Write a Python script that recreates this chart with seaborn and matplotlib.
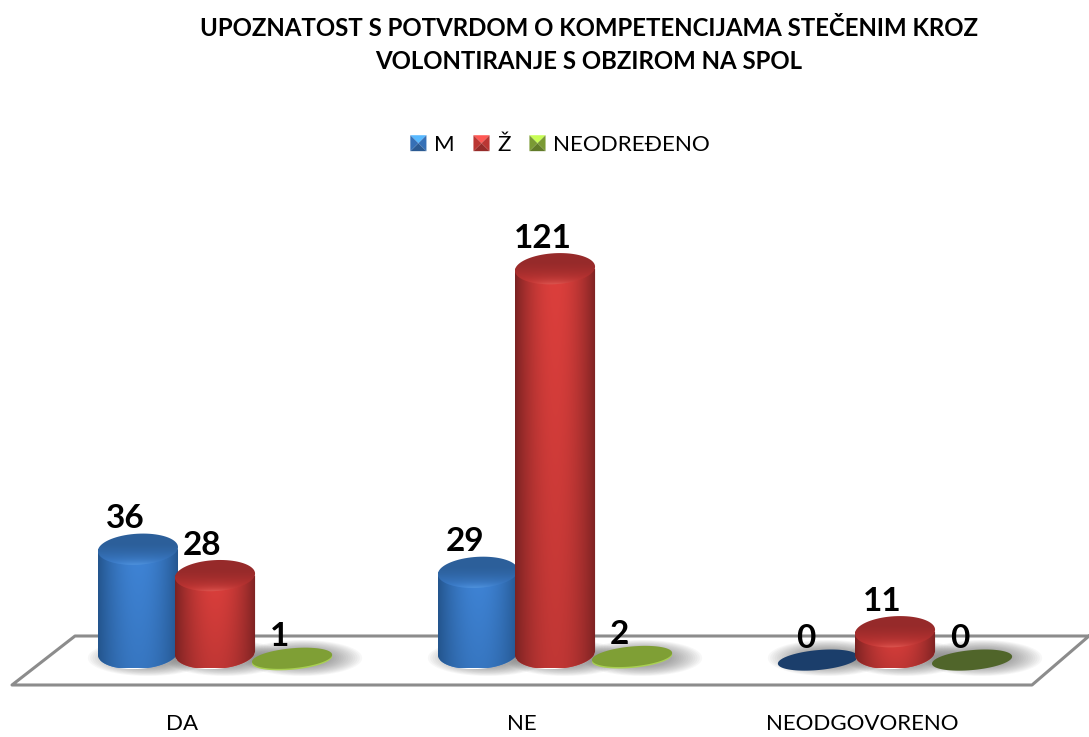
# -*- coding: utf-8 -*-
import numpy as np
import pandas as pd
import seaborn as sns
import matplotlib.pyplot as plt
from matplotlib.colors import to_rgb
from matplotlib.legend_handler import HandlerBase
from matplotlib.lines import Line2D
from matplotlib.patches import Patch, Polygon
from matplotlib.path import Path
from matplotlib.transforms import Affine2D, ScaledTranslation

title_text = 'UPOZNATOST S POTVRDOM O KOMPETENCIJAMA STEČENIM KROZ\nVOLONTIRANJE S OBZIROM NA SPOL'
categories = ['DA', 'NE', 'NEODGOVORENO']
series_names = ['M', 'Ž', 'NEODREĐENO']
m_values = [36, 29, 0]
z_values = [28, 121, 11]
n_values = [1, 2, 0]

# edge, centre, top dark, top light, zero colour
shades = {
    'M': ['#23548c', '#3f84d6', '#2c5f9a', '#3c7fd0', '#1b3e6b'],
    'Ž': ['#7a2222', '#dc3f3c', '#962a2a', '#c93634', '#7a1f1f'],
    'NEODREĐENO': ['#55702a', '#8fb53d', '#7b9c33', '#7f9f35', '#50652a'],
}

W, H = 1089, 737
sns.set_theme(style='white')
plt.rcParams['font.family'] = ['Lato', 'DejaVu Sans']

df = pd.DataFrame({
    'cat': categories * 3,
    'spol': [s for s in series_names for _ in categories],
    'n': m_values + z_values + n_values,
})

fig = plt.figure(figsize=(W / 100, H / 100), dpi=100)
# axes box in pixels: 100 .. 685 from the top
ax = fig.add_axes([0, (H - 685) / H, 1, 585 / H])
fig.patch.set_facecolor('white')

sns.barplot(data=df, x='cat', y='n', hue='spol', hue_order=series_names, order=categories,
            palette=[shades[s][1] for s in series_names], width=0.68, gap=0, legend=False,
            saturation=1, ax=ax)

PX_Y = 3.3          # pixels per unit on the y axis
PX_X = 340.0        # pixels per category
ax.set_xlim(-215 / PX_X, (W - 215) / PX_X)
ax.set_ylim(-17 / PX_Y, 568 / PX_Y)


def ell_pts(cx, cy, a, b, tilt, t0=0, t1=2 * np.pi):
    t = np.linspace(t0, t1, 80)
    return np.c_[cx + a * np.cos(t), cy + b * np.sin(t) + tilt * np.cos(t)]


def mix(c1, c2, f):
    c1, c2 = np.array(to_rgb(c1)), np.array(to_rgb(c2))
    return c1[None, None, :] * (1 - f[..., None]) + c2[None, None, :] * f[..., None]


def painted(img, extent, pts, z):
    im = ax.imshow(img, extent=extent, aspect='auto', origin='lower', zorder=z, interpolation='bilinear')
    im.set_clip_path(Path(np.vstack([pts, pts[:1]])), ax.transData)


def shadow(cx, cy, a, b, z):
    for k in np.linspace(1.0, 0.5, 14):
        ax.fill(*ell_pts(cx, cy, a * k, b * k, 0).T, color='#505050', alpha=0.045, lw=0, zorder=z)


# each bar from seaborn becomes a cylinder
z = 3
for j, name in enumerate(series_names):
    cont = ax.containers[j]
    edge, mid, top_d, top_l, zero = shades[name]
    for p, v in zip(cont.patches, cont.datavalues):
        cx = p.get_x() + p.get_width() / 2
        a = p.get_width() * 0.52
        flat = v < 5
        if flat:
            cy = 2.4 + 0.55 * v
            b, tilt = 10 / PX_Y, 3.5 / PX_Y
        else:
            cy = v
            b, tilt = 15.5 / PX_Y, 2 / PX_Y
        shadow(cx + 10 / PX_X, 10 / PX_Y, a * 1.5, 18 / PX_Y, 2)
        if flat:
            p.set_visible(False)
            if v > 0:
                ax.fill(*ell_pts(cx, cy - 1.5 / PX_Y, a, b, tilt).T, color='#a9d052', lw=0, zorder=z + j)
                ax.fill(*ell_pts(cx, cy, a, b, tilt).T, color=top_l, lw=0, zorder=z + j)
            else:
                ax.fill(*ell_pts(cx, cy, a, b, tilt).T, color=zero, lw=0, zorder=z + j)
        else:
            y0 = 15 / PX_Y
            low = ell_pts(cx, y0, a, 16 / PX_Y, tilt, np.pi, 2 * np.pi)
            body = np.vstack([[[cx - a, cy]], low, [[cx + a, cy]]])
            p.set_clip_path(Path(np.vstack([body, body[:1]])), ax.transData)
            p.set_zorder(z + j)
            tx = np.linspace(0, 1, 90)
            ty = np.linspace(0, 1, 40)
            xx, yy = np.meshgrid(tx, ty)
            glow = np.clip(np.sin(np.pi * xx) ** 0.85, 0, 1) * (0.72 + 0.28 * yy)
            painted(mix(edge, mid, glow), [cx - a, cx + a, 0, cy], body, z + j)
            top = ell_pts(cx, cy, a, b, tilt)
            rim = np.exp(-yy / 0.1) * np.sin(np.pi * xx) ** 2
            base = np.clip(1.05 - yy * 1.5, 0, 1) ** 1.5
            rim_col = '#f07a70' if name == 'Ž' else '#6db0f0'
            img = mix(top_d, top_l, base) * (1 - rim[..., None]) + mix(top_l, rim_col, xx * 0 + 0.7) * rim[..., None]
            painted(img, [cx - a, cx + a, cy - b - tilt, cy + b + tilt], top, z + j + 0.5)
        # data label
        off = -22 if flat else -30.5
        ax.annotate(str(int(v)), xy=(cx, cy), xytext=(-12.5 * 0.72, -off * 0.72), textcoords='offset points',
                    ha='center', va='center', fontsize=24, fontweight='bold', color='black', zorder=20)

ax.set_xlim(-215 / PX_X, (W - 215) / PX_X)
ax.set_ylim(-17 / PX_Y, 568 / PX_Y)
ax.set_xlabel('')
ax.set_ylabel('')
ax.set_yticks([])
ax.set_xticks(range(3))
ax.set_xticklabels(categories, fontsize=16, color='black')
ax.tick_params(axis='x', length=0, pad=21)
# category names sit left of the bar groups in the original
shift = ScaledTranslation(-33 / 100, 0, fig.dpi_scale_trans)
for lab in ax.get_xticklabels():
    lab.set_transform(lab.get_transform() + shift)
for s in ax.spines.values():
    s.set_visible(False)
ax.patch.set_alpha(0)

# floor of the 3d chart, in figure pixels
to_px = Affine2D().scale(1, -1).translate(0, H)
floor_x = [1089, 75, 12, 1032, 1089]
floor_y = [636, 636, 685, 685, 636]
ax.add_line(Line2D(floor_x, floor_y, transform=to_px, color='#8c8c8c', lw=2.2, zorder=1, clip_on=False))

fig.text(589 / W, 1 - 45 / H, title_text, ha='center', va='center', fontsize=17.25, fontweight='bold',
         color='black', linespacing=1.5)


class BevelSquare(HandlerBase):
    def create_artists(self, legend, orig, xd, yd, width, height, fontsize, trans):
        col = np.array(to_rgb(orig.get_facecolor()))
        x0, y0, x1, y1 = -xd, -yd, -xd + width, -yd + height
        xm, ym = (x0 + x1) / 2, (y0 + y1) / 2
        parts = [
            ([(x0, y1), (x1, y1), (xm, ym)], np.clip(col * 1.4, 0, 1)),
            ([(x0, y0), (x1, y0), (xm, ym)], col * 0.68),
            ([(x0, y0), (x0, y1), (xm, ym)], col * 0.85),
            ([(x1, y0), (x1, y1), (xm, ym)], col * 0.85),
        ]
        return [Polygon(pts, closed=True, fc=c, ec='none', transform=trans) for pts, c in parts]


handles = [Patch(facecolor=shades[s][1], label=s) for s in series_names]
fig.legend(handles=handles, labels=series_names, loc='center', bbox_to_anchor=(560 / W, 1 - 145 / H),
           ncol=3, frameon=False, fontsize=16.1, labelcolor='black', handlelength=0.72, handleheight=0.72,
           handletextpad=0.33, columnspacing=0.85, handler_map={Patch: BevelSquare()})

plt.savefig('out.png', dpi=100)
